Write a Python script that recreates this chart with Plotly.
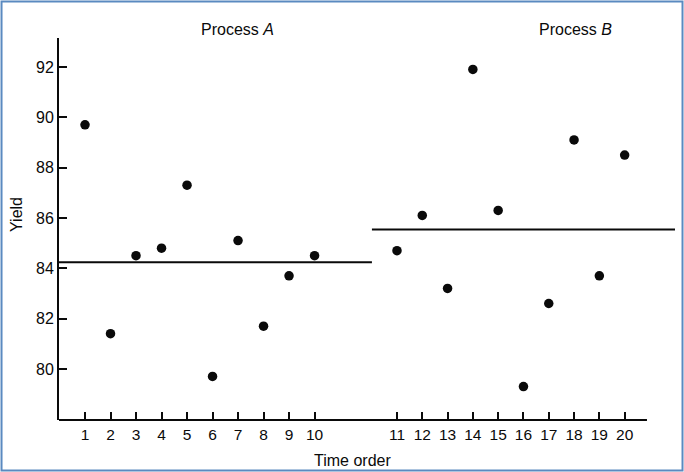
import plotly.graph_objects as go

# Data (Box, Hunter & Hunter style comparison of two processes)
order_a = [1, 2, 3, 4, 5, 6, 7, 8, 9, 10]
yield_a = [89.7, 81.4, 84.5, 84.8, 87.3, 79.7, 85.1, 81.7, 83.7, 84.5]
order_b = [11, 12, 13, 14, 15, 16, 17, 18, 19, 20]
yield_b = [84.7, 86.1, 83.2, 91.9, 86.3, 79.3, 82.6, 89.1, 83.7, 88.5]
y_ticks = [80, 82, 84, 86, 88, 90, 92]

mean_a = sum(yield_a) / len(yield_a)
mean_b = sum(yield_b) / len(yield_b)

FONT = "Liberation Sans, Arial, sans-serif"
INK = "#0a0a0a"

fig = go.Figure()
fig.add_trace(go.Scatter(x=order_a, y=yield_a, mode="markers", xaxis="x", yaxis="y",
                         marker=dict(color=INK, size=9.5), showlegend=False))
fig.add_trace(go.Scatter(x=order_b, y=yield_b, mode="markers", xaxis="x2", yaxis="y",
                         marker=dict(color=INK, size=9.5), showlegend=False))

d1 = 0.508
common_x = dict(showgrid=False, zeroline=False, showline=False, ticks="inside", ticklen=8,
                tickwidth=1.5, tickcolor=INK, tickfont=dict(family=FONT, size=15.5, color=INK),
                ticklabelstandoff=3, anchor="y")
fig.update_layout(
    width=684, height=472,
    margin=dict(l=59, r=9, t=38, b=52),
    paper_bgcolor="white", plot_bgcolor="white",
    font=dict(family=FONT, color=INK),
    xaxis=dict(domain=[0, d1], range=[-0.02, 12.25], tickvals=order_a,
               ticktext=[str(v) for v in order_a], **common_x),
    xaxis2=dict(domain=[d1, 1], range=[10.01, 21.99], tickvals=order_b,
                ticktext=[str(v) for v in order_b], **common_x),
    yaxis=dict(range=[77.97, 93.15], tickvals=y_ticks, ticktext=[str(v) for v in y_ticks],
               showgrid=False, zeroline=False, showline=True, linewidth=2, linecolor=INK,
               ticks="inside", ticklen=8, tickwidth=1.5, tickcolor=INK,
               tickfont=dict(family=FONT, size=16, color=INK), anchor="x"),
    shapes=[
        # x axis baseline
        dict(type="line", xref="paper", yref="paper", x0=0, x1=0.9545, y0=0, y1=0,
             line=dict(color=INK, width=2)),
        # mean lines
        dict(type="line", xref="x domain", yref="y", x0=0, x1=1, y0=mean_a, y1=mean_a,
             line=dict(color=INK, width=2)),
        dict(type="line", xref="x2 domain", yref="y", x0=0, x1=1, y0=mean_b, y1=mean_b,
             line=dict(color=INK, width=2)),
        # image frame
        dict(type="rect", xref="paper", yref="paper", x0=-0.0933, x1=1.0122,
             y0=-0.1322, y1=1.0955, line=dict(color="#5a8ac0", width=2)),
    ],
    annotations=[
        dict(text="Process <i>A</i>", xref="paper", yref="paper", x=0.289, y=1.021,
             showarrow=False, xanchor="center", yanchor="middle",
             font=dict(family=FONT, size=16, color=INK)),
        dict(text="Process <i>B</i>", xref="paper", yref="paper", x=0.838, y=1.021,
             showarrow=False, xanchor="center", yanchor="middle",
             font=dict(family=FONT, size=16, color=INK)),
        dict(text="Time order", xref="paper", yref="paper", x=0.477, y=-0.105,
             showarrow=False, xanchor="center", yanchor="middle",
             font=dict(family=FONT, size=16, color=INK)),
        dict(text="Yield", xref="paper", yref="paper", x=-0.068, y=0.537, textangle=-90,
             showarrow=False, xanchor="center", yanchor="middle",
             font=dict(family=FONT, size=16, color=INK)),
    ],
)

fig.write_html("out.html", config={"displayModeBar": False},
               post_script="document.body.style.margin='0';document.body.style.padding='0';")
